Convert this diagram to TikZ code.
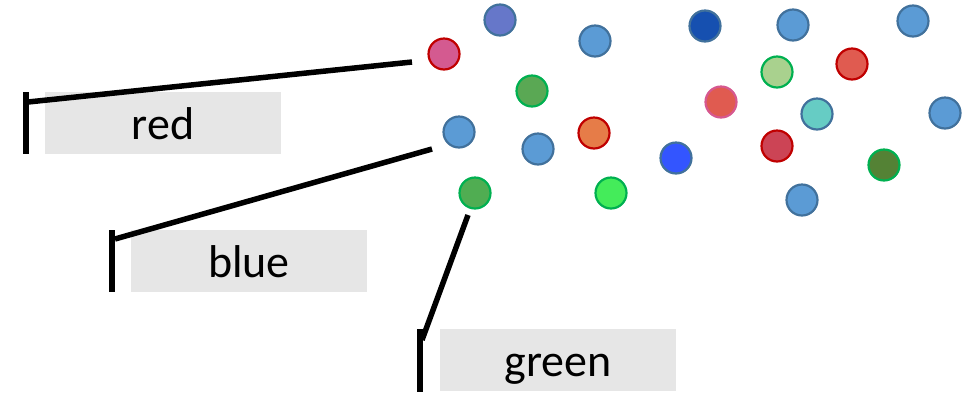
\documentclass[tikz,border=0pt]{standalone}
\usepackage{fontspec}
\setmainfont{Carlito}
\definecolor{bluefill}{HTML}{5B9BD5}
\definecolor{blueline}{HTML}{41719C}
\definecolor{redline}{HTML}{C00000}
\definecolor{greenline}{HTML}{00B050}
\definecolor{pinkline}{HTML}{D6588F}
\definecolor{boxgray}{HTML}{E6E6E6}
\tikzset{
  dot/.style={circle, minimum size=31pt, inner sep=0pt, line width=2.2pt},
  bdot/.style={dot, fill=bluefill, draw=blueline},
  labelbox/.style={rectangle, fill=boxgray, minimum width=236pt, minimum height=62pt,
    inner sep=0pt, text height=40pt, text depth=8pt,
    font=\fontsize{46}{55}\selectfont},
  leader/.style={line width=5.5pt, line cap=butt, line join=miter}
}
\begin{document}
\begin{tikzpicture}[x=1pt, y=-1pt]
\useasboundingbox (0,0) rectangle (966,392);

% scattered points
\node[dot, fill={rgb,255:red,102;green,119;blue,201}, draw=blueline] (slate) at (500,20) {};
\node[dot, fill={rgb,255:red,212;green,90;blue,144}, draw=redline] (pink) at (444,54) {};
\node[bdot] (b1) at (595,41) {};
\node[dot, fill={rgb,255:red,90;green,168;blue,84}, draw=greenline] (g1) at (532,91) {};
\node[bdot] (b2) at (459,132) {};
\node[bdot] (b3) at (538,149) {};
\node[dot, fill={rgb,255:red,230;green,124;blue,72}, draw=redline] (orange) at (594,133) {};
\node[dot, fill={rgb,255:red,51;green,85;blue,255}, draw=blueline] (bright) at (676,158) {};
\node[dot, fill={rgb,255:red,80;green,173;blue,82}, draw=greenline] (g2) at (475,193) {};
\node[dot, fill={rgb,255:red,68;green,236;blue,90}, draw=greenline] (lime) at (611,193) {};
\node[dot, fill={rgb,255:red,22;green,80;blue,176}, draw=blueline] (navy) at (705,26) {};
\node[bdot] (b4) at (793,25) {};
\node[bdot] (b5) at (913,21) {};
\node[dot, fill={rgb,255:red,169;green,209;blue,142}, draw=greenline] (lgreen) at (777,72) {};
\node[dot, fill={rgb,255:red,224;green,91;blue,80}, draw=redline] (red1) at (852,64) {};
\node[dot, fill={rgb,255:red,224;green,91;blue,80}, draw=pinkline] (salmon) at (721,102) {};
\node[dot, fill={rgb,255:red,102;green,204;blue,196}, draw=blueline] (teal) at (817,114) {};
\node[bdot] (b6) at (945,113) {};
\node[dot, fill={rgb,255:red,204;green,68;blue,85}, draw=redline] (crimson) at (777,146) {};
\node[dot, fill={rgb,255:red,84;green,130;blue,53}, draw=greenline] (olive) at (884,165) {};
\node[bdot] (b7) at (802,200) {};

% label boxes
\node[labelbox] (lred) at (163,123) {red};
\node[labelbox] (lblue) at (249,261) {blue};
\node[labelbox] (lgreenbox) at (558,360) {green};

% leader anchors
\coordinate (redtip) at (412,62);
\coordinate (redjoin) at (28,102);
\coordinate (redtop) at (26,92);
\coordinate (redbot) at (26,154);
\coordinate (bluetip) at (432,149);
\coordinate (bluejoin) at (115,239);
\coordinate (bluetop) at (112,230);
\coordinate (bluebot) at (112,292);
\coordinate (greentip) at (468,215);
\coordinate (greenjoin) at (422,340);
\coordinate (greentop) at (420,329);
\coordinate (greenbot) at (420,392);

% leaders
\draw[leader] (redtip) -- (redjoin);
\draw[leader] (redtop) -- (redbot);
\draw[leader] (bluetip) -- (bluejoin);
\draw[leader] (bluetop) -- (bluebot);
\draw[leader] (greentip) -- (greenjoin);
\draw[leader] (greentop) -- (greenbot);
\end{tikzpicture}
\end{document}
